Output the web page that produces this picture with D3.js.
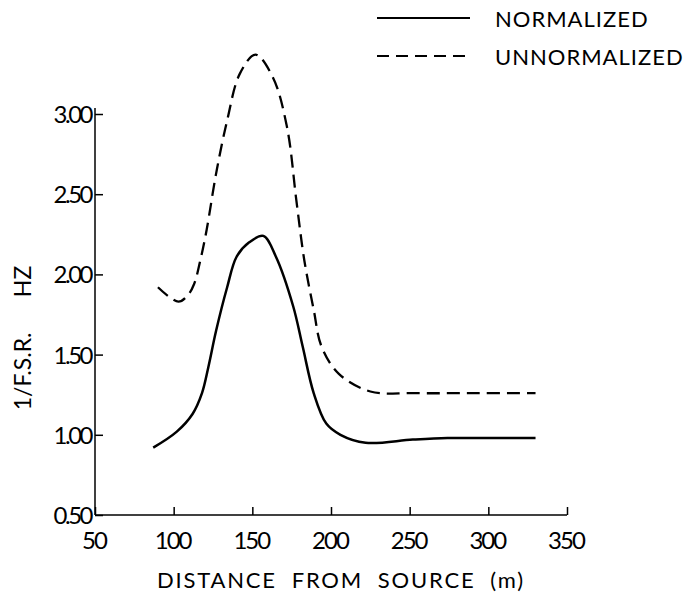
<!DOCTYPE html>
<html>
<head>
<meta charset="utf-8">
<script src="https://cdn.jsdelivr.net/npm/d3@7"></script>
<style>
  body { margin: 0; background: #fff; }
  text { font-family: Lato, "DejaVu Sans", sans-serif; fill: #000; }
</style>
</head>
<body>
<div id="chart"></div>
<script>
// values
const xTicks = [50, 100, 150, 200, 250, 300, 350];
const yTicks = [0.5, 1.0, 1.5, 2.0, 2.5, 3.0];
const seriesNames = ['NORMALIZED', 'UNNORMALIZED'];

const normDist = [87, 102, 112, 118, 122, 127, 134, 140, 148, 157, 165, 176, 182, 189, 197, 206, 222, 252, 274, 300, 330];
const normVal  = [0.92, 1.02, 1.13, 1.26, 1.42, 1.65, 1.92, 2.11, 2.20, 2.24, 2.11, 1.80, 1.55, 1.26, 1.07, 1.00, 0.95, 0.97, 0.98, 0.98, 0.98];

const unnDist = [90, 103, 109, 113, 117, 121, 127, 134, 142, 152, 163, 172, 178, 183, 189, 194, 205, 225, 252, 290, 330];
const unnVal  = [1.92, 1.83, 1.87, 1.94, 2.09, 2.28, 2.63, 2.96, 3.25, 3.37, 3.23, 2.92, 2.46, 2.09, 1.78, 1.55, 1.38, 1.27, 1.26, 1.26, 1.26];

const W = 694, H = 594;
const margin = {top: 114, right: 127, bottom: 79, left: 95};

const svg = d3.select('#chart').append('svg')
    .attr('width', W)
    .attr('height', H);

const x = d3.scaleLinear().domain([50, 350]).range([margin.left, W - margin.right]);
const y = d3.scaleLinear().domain([0.5, 3.0]).range([H - margin.bottom, margin.top]);

// axes - ticks point inward like the original
const xAxis = svg.append('g')
    .attr('transform', 'translate(0,' + y(0.5) + ')')
    .call(d3.axisTop(x).tickValues(xTicks).tickSize(8).tickFormat(''));
xAxis.select('.domain').attr('d', 'M' + x(50) + ',0H' + x(350));
xAxis.selectAll('line, path').attr('stroke', '#000').attr('stroke-width', 1.5);

svg.append('g').selectAll('text')
    .data(xTicks)
    .join('text')
    .attr('x', d => x(d) - 1)
    .attr('y', y(0.5) + 34)
    .attr('text-anchor', 'middle')
    .attr('font-size', 24)
    .attr('letter-spacing', -2)
    .text(d => d);

const yAxis = svg.append('g')
    .attr('transform', 'translate(' + x(50) + ',0)')
    .call(d3.axisRight(y).tickValues(yTicks).tickSize(8).tickFormat(''));
yAxis.select('.domain').attr('d', 'M0,' + y(0.5) + 'V' + (y(3.0) - 6));
yAxis.selectAll('line, path').attr('stroke', '#000').attr('stroke-width', 1.5);

svg.append('g').selectAll('text')
    .data(yTicks)
    .join('text')
    .attr('x', x(50) - 4)
    .attr('y', d => y(d) + 9)
    .attr('text-anchor', 'end')
    .attr('font-size', 24)
    .attr('letter-spacing', -2.5)
    .text(d => d3.format('.2f')(d));

// axis titles
svg.append('text')
    .attr('x', 341)
    .attr('y', 588)
    .attr('text-anchor', 'middle')
    .attr('font-size', 22)
    .attr('letter-spacing', 1.8)
    .attr('xml:space', 'preserve')
    .text('DISTANCE  FROM  SOURCE  (m)');

svg.append('text')
    .attr('transform', 'translate(31,338) rotate(-90)')
    .attr('text-anchor', 'middle')
    .attr('font-size', 23)
    .attr('xml:space', 'preserve')
    .text('1/F.S.R.      HZ');

// curves
const line = d3.line()
    .x(d => x(d[0]))
    .y(d => y(d[1]))
    .curve(d3.curveCatmullRom.alpha(0.5));

const normPts = normDist.map((d, i) => [d, normVal[i]]);
const unnPts = unnDist.map((d, i) => [d, unnVal[i]]);

svg.append('path')
    .datum(normPts)
    .attr('fill', 'none')
    .attr('stroke', '#000')
    .attr('stroke-width', 2.5)
    .attr('d', line);

svg.append('path')
    .datum(unnPts)
    .attr('fill', 'none')
    .attr('stroke', '#000')
    .attr('stroke-width', 2.3)
    .attr('stroke-dasharray', '13,7')
    .attr('d', line);

// legend
const legend = svg.append('g');
const legendRows = [
  {name: seriesNames[0], dash: null, y: 18},
  {name: seriesNames[1], dash: '12,7', y: 56}
];
legendRows.forEach(r => {
  legend.append('line')
      .attr('x1', 377).attr('x2', 470)
      .attr('y1', r.y).attr('y2', r.y)
      .attr('stroke', '#000')
      .attr('stroke-width', 2)
      .attr('stroke-dasharray', r.dash);
  legend.append('text')
      .attr('x', 495)
      .attr('y', r.y + 9)
      .attr('font-size', 22)
      .attr('letter-spacing', 1)
      .text(r.name);
});
</script>
</body>
</html>
